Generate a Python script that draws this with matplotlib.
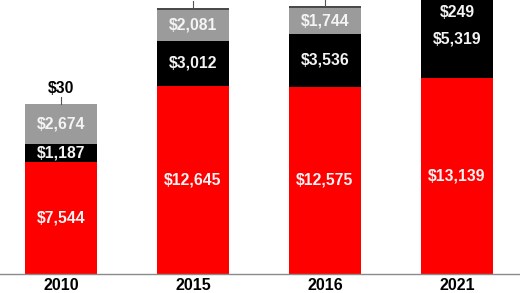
import matplotlib
matplotlib.use("Agg")
import matplotlib.pyplot as plt
import numpy as np

years = ["2010", "2015", "2016", "2021"]
red_vals = [7544, 12645, 12575, 13139]
black_vals = [1187, 3012, 3536, 5319]
gray_vals = [2674, 2081, 1744, 249]
dark_vals = [30, 115, 130, 0]

plt.rcParams['font.family'] = ['Liberation Sans', 'DejaVu Sans']

fig = plt.figure(figsize=(5.2, 2.93), dpi=100)
ax = fig.add_axes([0, 19/293, 1, 274/293])
x = np.arange(len(years))
w = 0.545

series = [
    (red_vals, "#ff0000"),
    (black_vals, "#000000"),
    (gray_vals, "#9b9b9b"),
    (dark_vals, "#4a4a4a"),
]
bottom = np.zeros(len(years))
bars = []
for vals, col in series:
    v = np.array(vals, dtype=float)
    ax.bar(x, v, w, bottom=bottom, color=col, edgecolor="none", zorder=2)
    bars.append((v, bottom.copy()))
    bottom = bottom + v

ymax = 18400
ax.set_xlim(-0.462, 3.477)
ax.set_ylim(0, ymax)

fs = 11.3
for i in range(len(years)):
    for k, (v, bot) in enumerate(bars):
        val = v[i]
        if val <= 0:
            continue
        if val >= 900:
            ax.text(x[i], bot[i] + val / 2, f"${int(val):,}", ha="center", va="center",
                    color="#f4f4f4", fontsize=fs, fontweight="bold", zorder=3)
        elif k == 3:
            top = bot[i] + val
            ax.plot([x[i], x[i]], [top, top + 450], color="#555555", lw=0.8, zorder=3, clip_on=False)
            ty = top + 1000
            if ty + 400 < ymax:  # labels whose text lies beyond the cropped top are not shown
                ax.text(x[i], ty, f"${int(val):,}", ha="center", va="center",
                        color="black", fontsize=fs, fontweight="bold", zorder=3)
        else:
            # small segment: label placed below inside the preceding segment
            ax.text(x[i], bot[i] - 930, f"${int(val):,}", ha="center", va="center",
                    color="#f4f4f4", fontsize=fs, fontweight="bold", zorder=3)

for s in ["top", "right", "left"]:
    ax.spines[s].set_visible(False)
ax.spines["bottom"].set_color("#8a8a8a")
ax.spines["bottom"].set_linewidth(1.0)
ax.set_yticks([])
ax.set_xticks(x)
ax.set_xticklabels(years, fontsize=11.5, fontweight="bold")
ax.tick_params(axis="x", length=0, pad=3)

fig.savefig("out.png", dpi=100)
